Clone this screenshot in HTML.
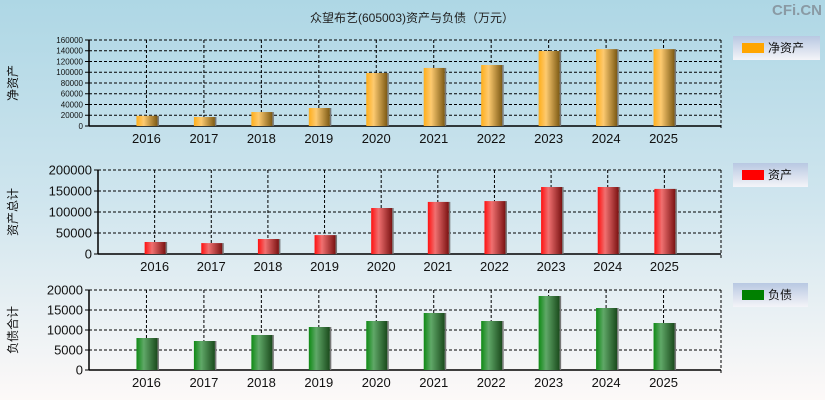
<!DOCTYPE html>
<html><head><meta charset="utf-8"><style>
html,body{margin:0;padding:0}
body{width:825px;height:400px;overflow:hidden;background:linear-gradient(#aed7e5 0%,#cfe5ee 50%,#fdf9f8 100%);font-family:"Liberation Sans","Noto Sans CJK SC",sans-serif}
svg{position:absolute;left:0;top:0}
</style></head><body>
<svg id="c" width="825" height="400">
<defs>
<linearGradient id="gO" x1="0" x2="1"><stop offset="0" stop-color="#ffae1a"/><stop offset="0.35" stop-color="#fdca70"/><stop offset="1" stop-color="#7d5a14"/></linearGradient>
<linearGradient id="gR" x1="0" x2="1"><stop offset="0" stop-color="#ff1010"/><stop offset="0.35" stop-color="#f07070"/><stop offset="1" stop-color="#7a1212"/></linearGradient>
<linearGradient id="gG" x1="0" x2="1"><stop offset="0" stop-color="#0e8a14"/><stop offset="0.35" stop-color="#60a868"/><stop offset="1" stop-color="#1a4a1c"/></linearGradient>
<linearGradient id="gL" x1="0" x2="0" y1="0" y2="1"><stop offset="0" stop-color="#b8c8e2"/><stop offset="1" stop-color="#f4f4f8"/></linearGradient>
</defs>
<text x="412" y="22" text-anchor="middle" font-size="12" fill="#222">众望布艺(605003)资产与负债（万元）</text>
<text x="822" y="15" text-anchor="end" font-size="15" font-weight="bold" fill="#8a9aa4">CFi.CN</text>
</svg>
<script>
const years=["2016","2017","2018","2019","2020","2021","2022","2023","2024","2025"];
const netAssets=[19000,16700,26000,33500,98600,108000,113500,139500,143000,143000];
const totalAssets=[28600,26000,35700,45000,109500,124000,126000,159500,159500,155000];
const liabilities=[8000,7250,8750,10750,12250,14250,12250,18500,15500,11750];
const ticksTop=["0","20000","40000","60000","80000","100000","120000","140000","160000"];
const ticksMid=["0","50000","100000","150000","200000"];
const ticksBot=["0","5000","10000","15000","20000"];
const svg=document.getElementById('c');
const NS="http://www.w3.org/2000/svg";
function mk(t,a,p){const e=document.createElementNS(NS,t);for(const k in a)e.setAttribute(k,a[k]);(p||svg).appendChild(e);return e;}
function panel(o){
  const g=mk('g',{});
  
  
  const max=+o.ticks[o.ticks.length-1];
  const n=years.length+1, slot=(o.R-o.L)/n;
  const xs=i=>o.L+(i+1)*slot;
  const ys=v=>o.B-(v/max)*(o.B-o.T);
  o.ticks.forEach(t=>{
    const y=ys(+t);
    if(+t>0){const l=mk('line',{x1:o.L,x2:o.R,y1:y,y2:y,stroke:'#000','stroke-dasharray':'3,2','stroke-width':1},g);
    }
    mk('line',{x1:o.L-4,x2:o.L,y1:y,y2:y,stroke:'#000'},g);
    const tx=mk('text',{x:o.L-6,y:y+o.fs*0.35,'text-anchor':'end','font-size':o.fs,fill:'#111'},g);
    tx.textContent=t;
    
  });
  years.forEach((yr,i)=>{
    const x=xs(i);
    const l=mk('line',{x1:x,x2:x,y1:o.T,y2:o.B,stroke:'#000','stroke-dasharray':'3,2'},g);
    
  });
  mk('line',{x1:o.R,x2:o.R,y1:o.T,y2:o.B+4,stroke:'#000','stroke-dasharray':'3,2'},g);
  mk('line',{x1:o.L,x2:o.L,y1:o.T,y2:o.B,stroke:'#000','stroke-width':1.5},g);
  mk('line',{x1:o.L,x2:o.R,y1:o.B,y2:o.B,stroke:'#000','stroke-width':1.5},g);
  o.data.forEach((v,i)=>{
    const x=xs(i), y=ys(v);
    const sh=mk('rect',{x:x-10+21,y:y,width:1.5,height:o.B-y,fill:'#777'},g);
    
    const r=mk('rect',{x:x-10,y:y,width:21,height:o.B-y,fill:o.fill},g);
    
    
    const tx=mk('text',{x:x,y:o.B+17,'text-anchor':'middle','font-size':13,fill:'#111'},g);
    tx.textContent=years[i];
    
  });
  const cy=(o.T+o.B)/2;
  const at=mk('text',{x:17,y:cy,'text-anchor':'middle','font-size':12,fill:'#111',transform:`rotate(-90 17 ${cy})`},g);
  at.textContent=o.title;
  
  const lg=mk('g',{},g);
  
  mk('rect',{x:733,y:o.ly,width:o.lw,height:24,fill:'url(#gL)'},lg);
  const sw=mk('rect',{x:742,y:o.ly+7,width:22,height:10,fill:o.lc},lg);
  
  const lt=mk('text',{x:768,y:o.ly+16,'font-size':12,fill:'#111'},lg);
  lt.textContent=o.title2;
  
}
panel({name:'net-assets-panel',L:89,R:721,T:40,B:126,ticks:ticksTop,data:netAssets,fill:'url(#gO)',fs:8,title:'净资产',title2:'净资产',lc:'#ffa500',ly:36,lw:87});
panel({name:'total-assets-panel',L:98,R:721,T:170,B:254,ticks:ticksMid,data:totalAssets,fill:'url(#gR)',fs:13,title:'资产总计',title2:'资产',lc:'#ff0000',ly:163,lw:75});
panel({name:'liabilities-panel',L:89,R:721,T:290,B:370,ticks:ticksBot,data:liabilities,fill:'url(#gG)',fs:13,title:'负债合计',title2:'负债',lc:'#008000',ly:283,lw:75});
</script>
</body></html>
